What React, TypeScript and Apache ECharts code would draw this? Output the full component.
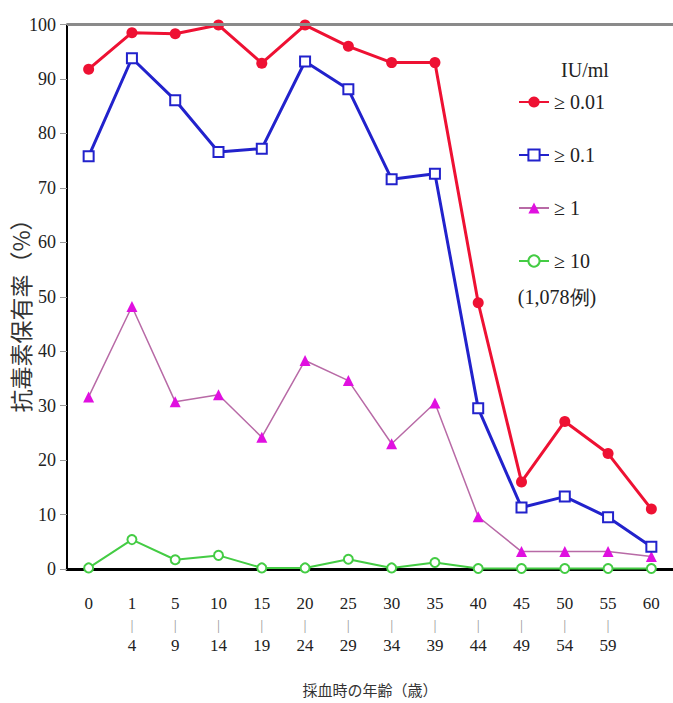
import React, { useEffect, useRef } from "react";
import * as echarts from "echarts";

const ageStart = ["0", "1", "5", "10", "15", "20", "25", "30", "35", "40", "45", "50", "55", "60"];
const ageEnd = ["", "4", "9", "14", "19", "24", "29", "34", "39", "44", "49", "54", "59", ""];

const seriesNames = ["≥ 0.01", "≥ 0.1", "≥ 1", "≥ 10"];
const v001 = [91.8, 98.5, 98.3, 99.9, 92.9, 99.9, 96.0, 93.0, 93.0, 48.9, 16.0, 27.1, 21.2, 11.0];
const v01 = [75.8, 93.8, 86.1, 76.6, 77.2, 93.2, 88.1, 71.6, 72.6, 29.5, 11.3, 13.3, 9.5, 4.1];
const v1 = [31.6, 48.2, 30.7, 32.0, 24.2, 38.3, 34.6, 23.0, 30.5, 9.6, 3.2, 3.2, 3.2, 2.3];
const v10 = [0.2, 5.4, 1.7, 2.5, 0.2, 0.2, 1.8, 0.2, 1.2, 0.1, 0.1, 0.1, 0.1, 0.1];

const yTicks = { min: 0, max: 100, interval: 10 };

export default function App() {
  const ref = useRef<HTMLDivElement>(null);
  useEffect(() => {
    if (!ref.current) return;
    const chart = echarts.init(ref.current, undefined, { renderer: "svg" });
    const serif = "'Liberation Serif', 'DejaVu Serif', serif";
    const cjk = "'Noto Sans CJK JP', sans-serif";
    const categories = ageStart.map((s, i) => (ageEnd[i] ? `${s}|${ageEnd[i]}` : s));
    chart.setOption({
      animation: false,
      backgroundColor: "#ffffff",
      grid: { left: 67, top: 24.5, width: 609, height: 544.5, containLabel: false },
      legend: {
        orient: "vertical",
        left: 518,
        top: 92,
        padding: 0,
        itemWidth: 30,
        itemHeight: 14,
        itemGap: 33,
        data: seriesNames,
        textStyle: { fontFamily: serif, fontSize: 20, color: "#222" },
      },
      graphic: [
        {
          type: "line",
          shape: { x1: 67, y1: 24.5, x2: 673, y2: 24.5 },
          style: { stroke: "#8a8a8a", lineWidth: 3 },
          z: 10,
        },
        {
          type: "text",
          x: 585,
          y: 70,
          style: {
            text: "IU/ml",
            fontFamily: serif,
            fontSize: 20,
            fill: "#222",
            textAlign: "center",
            textVerticalAlign: "middle",
          },
        },
        {
          type: "text",
          x: 557,
          y: 297,
          style: {
            text: "(1,078例)",
            fontFamily: serif,
            fontSize: 20,
            fill: "#222",
            textAlign: "center",
            textVerticalAlign: "middle",
          },
        },
        {
          type: "text",
          x: 20,
          y: 310,
          rotation: Math.PI / 2,
          style: {
            text: "抗毒素保有率（%）",
            fontFamily: cjk,
            fontSize: 23,
            fill: "#333",
            textAlign: "center",
            textVerticalAlign: "middle",
          },
        },
      ],
      xAxis: {
        type: "category",
        data: categories,
        boundaryGap: true,
        name: "採血時の年齢（歳）",
        nameLocation: "middle",
        nameGap: 113,
        nameTextStyle: { fontFamily: cjk, fontSize: 15, color: "#333" },
        axisLine: { lineStyle: { color: "#000", width: 3 } },
        axisTick: { alignWithLabel: true, length: 7, lineStyle: { color: "#999" } },
        axisLabel: {
          interval: 0,
          margin: 24,
          formatter: (val: string) => {
            const parts = val.split("|");
            if (parts.length === 2) return `{a|${parts[0]}}\n{b||}\n{a|${parts[1]}}`;
            return `{a|${val}}`;
          },
          rich: {
            a: { fontFamily: serif, fontSize: 17, color: "#222", lineHeight: 21 },
            b: { fontFamily: serif, fontSize: 15, color: "#999", lineHeight: 21 },
          },
        },
      },
      yAxis: {
        type: "value",
        min: yTicks.min,
        max: yTicks.max,
        interval: yTicks.interval,
        axisLine: { show: true, lineStyle: { color: "#000", width: 2 } },
        axisTick: { show: true, length: 7, lineStyle: { color: "#999" } },
        axisLabel: { fontFamily: serif, fontSize: 18, color: "#222", margin: 11 },
        splitLine: { show: false },
      },
      series: [
        {
          name: seriesNames[0],
          type: "line",
          data: v001,
          symbol: "circle",
          symbolSize: 11,
          lineStyle: { color: "#ee1133", width: 3 },
          itemStyle: { color: "#ee1133" },
          z: 5,
        },
        {
          name: seriesNames[1],
          type: "line",
          data: v01,
          symbol: "emptyRect",
          symbolSize: 10,
          lineStyle: { color: "#2222cc", width: 3 },
          itemStyle: { color: "#2222cc", borderWidth: 1.5 },
          z: 4,
        },
        {
          name: seriesNames[2],
          type: "line",
          data: v1,
          symbol: "triangle",
          symbolSize: 11,
          lineStyle: { color: "#b86aa6", width: 1.5 },
          itemStyle: { color: "#e010e0" },
          z: 3,
        },
        {
          name: seriesNames[3],
          type: "line",
          data: v10,
          symbol: "emptyCircle",
          symbolSize: 9,
          lineStyle: { color: "#44cc44", width: 2 },
          itemStyle: { color: "#44cc44", borderWidth: 1.5 },
          z: 6,
        },
      ],
    });
    return () => chart.dispose();
  }, []);
  return (
    <div
      ref={ref}
      style={{ position: "absolute", left: 0, top: 0, width: 673, height: 703 }}
    />
  );
}
